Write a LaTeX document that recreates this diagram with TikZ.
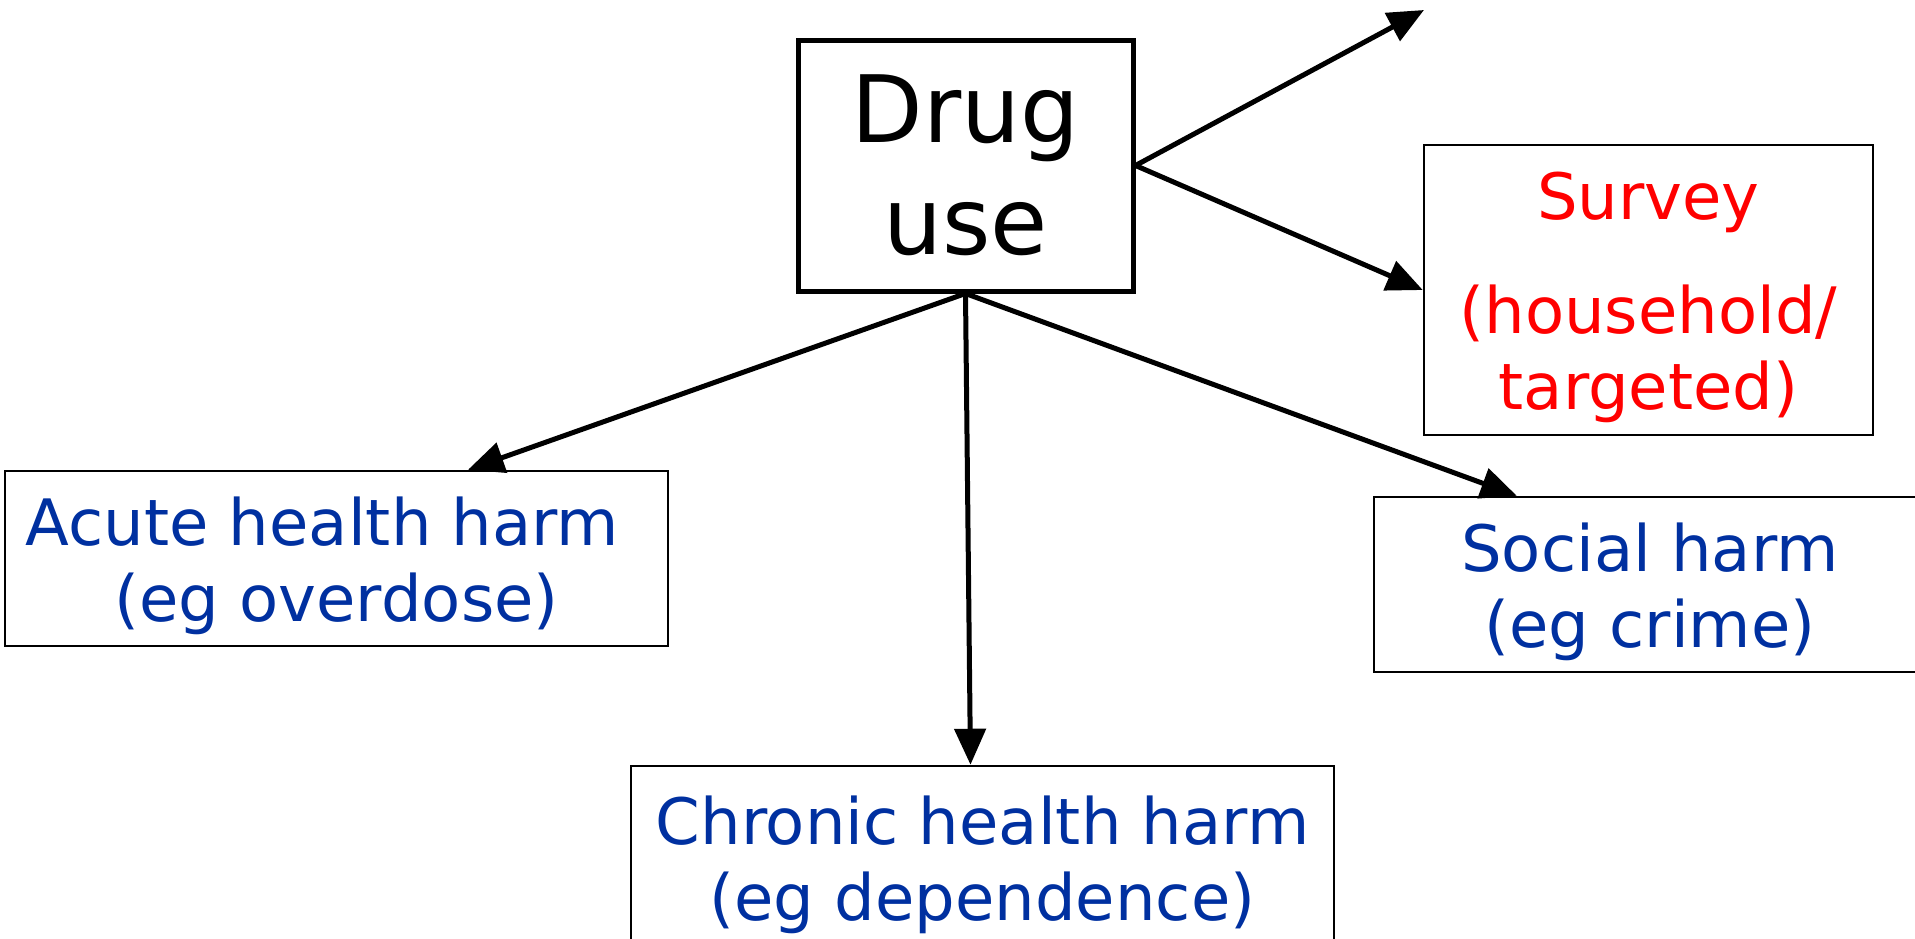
\documentclass[tikz,border=0pt]{standalone}
\usepackage{fontspec}
\setmainfont{DejaVu Sans}
\definecolor{harmblue}{HTML}{0030A0}
\definecolor{surveyred}{HTML}{FF0000}
\usetikzlibrary{arrows.meta, positioning}
\newcommand{\toplift}{\rule{0pt}{63pt}}
\tikzset{
  harmbox/.style={draw, line width=2.5pt, align=center, text=harmblue,
                  font=\fontsize{64}{76}\selectfont, inner sep=0pt},
  link/.style={line width=5pt, -{Triangle[length=36pt,width=31pt]}}
}

\begin{document}
\begin{tikzpicture}[x=1pt,y=-1pt]
\useasboundingbox (0,0) rectangle (1915,938);
\clip (0,0) rectangle (1915,938);

% Centre box
\node[draw, line width=5pt, minimum width=335pt, minimum height=251pt,
      align=center, font=\fontsize{93}{112}\selectfont] (drug) at (965.5,165.5) {Drug\\use};

% Measurement
\node[harmbox, text=surveyred, minimum width=449pt, minimum height=290pt]
  (survey) at (1648.5,290) {\toplift Survey\\[38pt](household/\\targeted)};

% Harms
\node[harmbox, minimum width=663pt, minimum height=175pt] (acute) at (336.5,558.5)
  {\toplift Acute health harm\hspace*{28pt}\\(eg overdose)};
\node[harmbox, minimum width=552pt, minimum height=175pt] (social) at (1650,584.5)
  {\toplift Social harm\\(eg crime)};
\node[harmbox, minimum width=703pt, minimum height=184pt] (chronic) at (982.5,858)
  {\toplift Chronic health harm\\(eg dependence)};

\coordinate (loose) at (1424,10);

% Arrows
\draw[link] (drug.east) -- (loose);
\draw[link] (drug.east) -- (survey.west);
\draw[link] (drug.south) -- ([xshift=131.5pt]acute.north);
\draw[link] (drug.south) -- ([xshift=-12pt]chronic.north);
\draw[link] (drug.south) -- ([xshift=144pt]social.north west);
\end{tikzpicture}
\end{document}
